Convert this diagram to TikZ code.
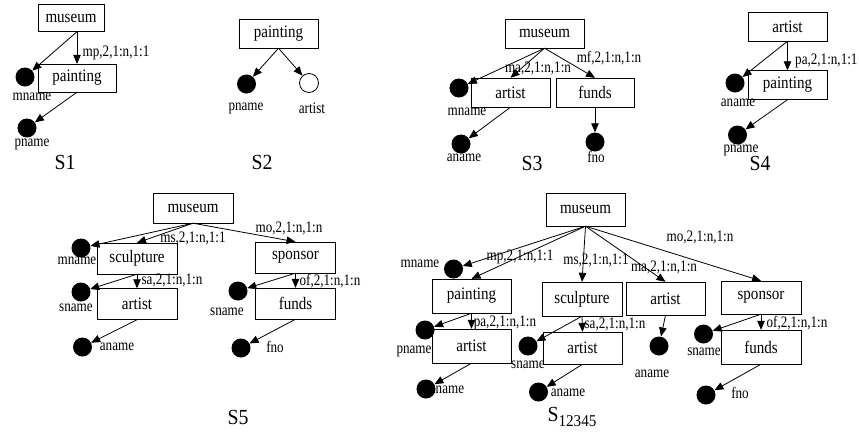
\documentclass[tikz,border=0pt]{standalone}
\usepackage{fontspec}
\setmainfont{Liberation Serif}[FakeStretch=0.82]
\newfontfamily\boxfont{Liberation Serif}[FakeStretch=0.86]
\newfontfamily\ttlfont{Liberation Serif}[FakeStretch=0.92]
\usetikzlibrary{arrows.meta}
\begin{document}
\begin{tikzpicture}[x=1pt,y=-1pt,
  box/.style={draw, minimum width=79pt, minimum height=29pt, inner sep=0pt, font=\boxfont\fontsize{17.5}{17.5}\selectfont},
  dot/.style={circle, fill=black, inner sep=0pt, minimum size=19pt},
  odot/.style={circle, draw, line width=0.8pt, fill=white, inner sep=0pt, minimum size=19pt},
  lbl/.style={inner sep=0pt, font=\fontsize{16}{16}\selectfont},
  ttl/.style={inner sep=0pt, font=\ttlfont\fontsize{21.5}{21.5}\selectfont},
  arr/.style={-{Triangle[length=9pt,width=7.5pt]}, line width=0.8pt},
]
\useasboundingbox (0,0) rectangle (859,432);
% ---------- S1
\node[box, minimum width=66pt, minimum height=27pt] (s1m) at (71,18) {museum};
\node[box, minimum width=78pt, minimum height=28pt] (s1p) at (77,78) {painting};
\node[dot] (s1mn) at (25,77) {};
\node[dot] (s1pn) at (27,128) {};
\coordinate (s1o) at (s1p.north |- s1m.south);
\draw[arr] (s1o) -- (s1p.north);
\draw[arr] (s1o) -- (s1mn);
\draw[arr] (s1p.south) -- (s1pn);
\node[lbl] (l1) at (116,53) {mp,2,1:n,1:1};
\node[lbl] (t1a) at (32,97) {mname};
\node[lbl] (t1b) at (32,144) {pname};
\node[ttl] (S1) at (65,162) {S1};
% ---------- S2
\node[box] (s2p) at (278.5,33.5) {painting};
\node[dot] (s2pn) at (246.5,84) {};
\node[odot] (s2a) at (309,83) {};
\draw[arr] (s2p.south) -- (s2pn);
\draw[arr] (s2p.south) -- (s2a);
\node[lbl] (t2a) at (246,108) {pname};
\node[lbl] (t2b) at (312,108) {artist};
\node[ttl] (S2) at (262,162) {S2};
% ---------- S3
\node[box] (s3m) at (544.5,33.5) {museum};
\node[box] (s3a) at (510.5,92.5) {artist};
\node[box, minimum width=78pt] (s3f) at (595,92.5) {funds};
\node[dot] (s3mn) at (459,88) {};
\node[dot] (s3an) at (461,144) {};
\node[dot] (s3fn) at (595,142) {};
\draw[arr] (s3m.south) -- (s3mn);
\draw[arr] (s3m.south) -- (s3a.north);
\draw[arr] (s3m.south) -- (s3f.north);
\draw[arr] (s3a.south) -- (s3an);
\draw[arr] (s3f.south) -- (s3fn);
\node[lbl] (l3a) at (538,68) {ma,2,1:n,1:n};
\node[lbl] (l3b) at (609,58) {mf,2,1:n,1:n};
\node[lbl] (t3a) at (467,112) {mname};
\node[lbl] (t3b) at (464,158) {aname};
\node[lbl] (t3c) at (596,157) {fno};
\node[ttl] (S3) at (532,163) {S3};
% ---------- S4
\node[box] (s4a) at (787.5,26.5) {artist};
\node[box] (s4p) at (787.5,85) {painting};
\node[dot] (s4an) at (735,83) {};
\node[dot] (s4pn) at (737.5,135) {};
\draw[arr] (s4a.south) -- (s4p.north);
\draw[arr] (s4a.south) -- (s4an);
\draw[arr] (s4p.south) -- (s4pn);
\node[lbl, anchor=west] (l4) at (795,61) {pa,2,1:n,1:1};
\node[lbl] (t4a) at (738,103) {aname};
\node[lbl] (t4b) at (741,150) {pname};
\node[ttl] (S4) at (760,163) {S4};
% ---------- S5
\node[box, minimum width=80pt, minimum height=30pt] (s5m) at (193,208) {museum};
\node[box, minimum width=80pt, minimum height=31pt] (s5s) at (137,258.5) {sculpture};
\node[box, minimum width=80pt, minimum height=31pt] (s5a) at (137,304) {artist};
\node[box, minimum width=80pt, minimum height=31pt] (s5o) at (295.5,257.5) {sponsor};
\node[box, minimum width=80pt, minimum height=31pt] (s5f) at (295.5,303.5) {funds};
\node[dot] (s5mn) at (81,248) {};
\node[dot] (s5sn) at (81,292) {};
\node[dot] (s5an) at (82.5,347) {};
\node[dot] (s5on) at (238,291) {};
\node[dot] (s5fn) at (241,348) {};
\draw[arr] (s5m.south) -- (s5mn);
\draw[arr] (s5m.south) -- (s5s.north);
\draw[arr] (s5m.south) -- (s5o.north);
\draw[arr] (s5s.south) -- (s5a.north);
\draw[arr] (s5s.south) -- (s5sn);
\draw[arr] (s5a.south) -- (s5an);
\draw[arr] (s5o.south) -- (s5f.north);
\draw[arr] (s5o.south) -- (s5on);
\draw[arr] (s5f.south) -- (s5fn);
\node[lbl] (l5a) at (193,238) {ms,2,1:n,1:1};
\node[lbl] (l5b) at (172,280) {sa,2,1:n,1:n};
\node[lbl] (l5c) at (289,228) {mo,2,1:n,1:n};
\node[lbl] (l5d) at (330,281) {of,2,1:n,1:n};
\node[lbl] (t5a) at (77,261) {mname};
\node[lbl] (t5b) at (76,308) {sname};
\node[lbl] (t5c) at (117,347) {aname};
\node[lbl] (t5d) at (227,312) {sname};
\node[lbl] (t5e) at (275,347) {fno};
\node[ttl] (S5) at (238,417) {S5};
% ---------- S12345
\node[box, minimum height=33pt] (xm) at (585.5,209.5) {museum};
\node[box, minimum height=34pt] (xp) at (471.5,296) {painting};
\node[box, minimum height=34pt, minimum width=80pt] (xs) at (582,299) {sculpture};
\node[box, minimum height=33pt] (xa) at (665.5,298.5) {artist};
\node[box, minimum height=33pt, minimum width=80pt] (xo) at (761,297.5) {sponsor};
\node[box, minimum height=34pt] (xpa) at (471.5,346) {artist};
\node[box, minimum height=32pt] (xsa) at (582.5,348) {artist};
\node[box, minimum height=34pt, minimum width=80pt] (xf) at (761,347) {funds};
\node[dot] (xmn) at (453.5,269) {};
\node[dot] (xpn) at (425,330) {};
\node[dot] (xan1) at (426,389) {};
\node[dot] (xsn) at (528,346) {};
\node[dot] (xan2) at (538.5,392) {};
\node[dot] (xan3) at (659,346) {};
\node[dot] (xon) at (703.5,334) {};
\node[dot] (xfn) at (706,395) {};
\draw[arr] (xm.south) -- (xmn);
\draw[arr] (xm.south) -- (xp.north);
\draw[arr] (xm.south) -- (xs.north);
\draw[arr] (xm.south) -- (xa.north);
\draw[arr] (xm.south) -- (xo.north);
\draw[arr] (xp.south) -- (xpa.north);
\draw[arr] (xp.south) -- (xpn);
\draw[arr] (xpa.south) -- (xan1);
\draw[arr] (xs.south) -- (xsa.north);
\draw[arr] (xs.south) -- (xsn);
\draw[arr] (xsa.south) -- (xan2);
\draw[arr] (xa.south) -- (xan3);
\draw[arr] (xo.south) -- (xf.north);
\draw[arr] (xo.south) -- (xon);
\draw[arr] (xf.south) -- (xfn);
\node[lbl] (lxa) at (520,257) {mp,2,1:n,1:1};
\node[lbl] (lxb) at (596,260) {ms,2,1:n,1:1};
\node[lbl] (lxc) at (664,267) {ma,2,1:n,1:n};
\node[lbl] (lxd) at (700,237) {mo,2,1:n,1:n};
\node[lbl] (lxe) at (505,323) {pa,2,1:n,1:n};
\node[lbl] (lxf) at (615,324) {sa,2,1:n,1:n};
\node[lbl] (lxg) at (797,323) {of,2,1:n,1:n};
\node[lbl] (txa) at (420,264) {mname};
\node[lbl] (txb) at (414,351) {pname};
\node[lbl] (txc) at (447,390) {aname};
\node[lbl] (txd) at (528,365) {sname};
\node[lbl] (txe) at (568,393) {aname};
\node[lbl] (txf) at (652,374) {aname};
\node[lbl] (txg) at (704,352) {sname};
\node[lbl] (txh) at (740,393) {fno};
\node[ttl] (SX) at (572,417) {S\raisebox{-5pt}{\fontsize{16.5}{16.5}\selectfont 12345}};
\end{tikzpicture}
\end{document}
